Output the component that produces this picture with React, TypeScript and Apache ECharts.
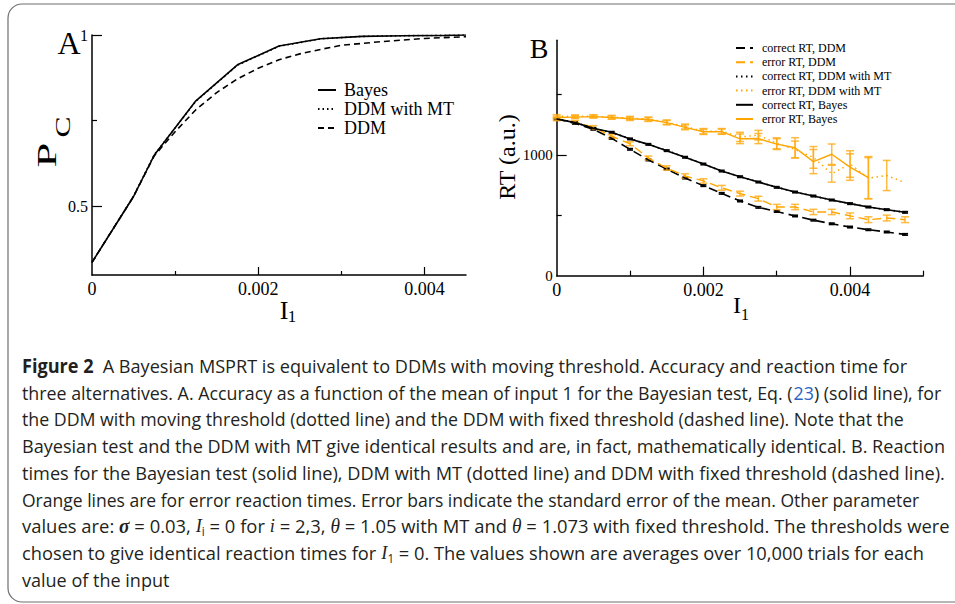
import React, { useEffect, useRef } from "react";
import * as echarts from "echarts";

// ---------- Panel A data ----------
const A_X_BAYES = [0, 0.0005, 0.00075, 0.00125, 0.00175, 0.00225, 0.00275, 0.00325, 0.00375, 0.00425, 0.0045];
const A_BAYES = [0.337, 0.529, 0.65, 0.808, 0.913, 0.968, 0.989, 0.996, 0.998, 0.999, 1.0];
const A_MT = [0.337, 0.53, 0.651, 0.807, 0.912, 0.967, 0.989, 0.996, 0.998, 0.999, 1.0];
const A_X_DDM = [0, 0.0005, 0.00075, 0.001, 0.00125, 0.0015, 0.00175, 0.002, 0.00225, 0.0025, 0.00275, 0.003, 0.0035, 0.004, 0.0045];
const A_DDM = [0.337, 0.529, 0.648, 0.718, 0.782, 0.832, 0.872, 0.903, 0.928, 0.945, 0.958, 0.97, 0.981, 0.99, 0.995];

const A_X_LABELS = [0, 0.002, 0.004];
const A_X_MAJOR = [0.002, 0.004];
const A_X_MINOR = [0.001, 0.003];
const A_Y_LABELS = [0.5, 1];
const A_Y_MINOR = [0.75];

// ---------- Panel B data ----------
const B_X = [0, 0.00025, 0.0005, 0.00075, 0.001, 0.00125, 0.0015, 0.00175, 0.002, 0.00225, 0.0025, 0.00275, 0.003, 0.00325, 0.0035, 0.00375, 0.004, 0.00425, 0.0045, 0.00475];
const B_CORRECT_DDM = [1298, 1262, 1213, 1138, 1047, 959, 884, 809, 746, 682, 619, 566, 532, 495, 460, 430, 403, 381, 362, 342];
const B_ERROR_DDM = [1296, 1274, 1229, 1155, 1093, 975, 892, 826, 785, 728, 680, 638, 569, 569, 528, 528, 496, 464, 478, 464];
const B_CORRECT_MT = [1300, 1270, 1222, 1186, 1135, 1086, 1038, 980, 927, 865, 822, 775, 734, 692, 661, 626, 598, 568, 548, 524];
const B_ERROR_MT = [1322, 1320, 1321, 1314, 1306, 1298, 1272, 1236, 1197, 1197, 1150, 1164, 1097, 1045, 980, 845, 925, 808, 830, 771];
const B_CORRECT_BAYES = [1298, 1268, 1221, 1188, 1133, 1088, 1036, 981, 925, 867, 820, 776, 732, 693, 660, 627, 597, 569, 547, 525];
const B_ERROR_BAYES = [1310, 1314, 1318, 1310, 1300, 1294, 1268, 1229, 1192, 1193, 1134, 1136, 1090, 1060, 945, 1006, 900, 812, null, null];

// standard errors
const SE_CORRECT_DDM = [6, 6, 6, 6, 6, 6, 6, 6, 6, 6, 6, 6, 6, 6, 6, 6, 6, 6, 6, 6];
const SE_ERROR_DDM = [12, 12, 14, 14, 16, 16, 18, 18, 18, 20, 20, 20, 22, 22, 22, 22, 24, 24, 24, 24];
const SE_CORRECT_BAYES = [6, 6, 6, 6, 6, 6, 6, 6, 6, 6, 6, 6, 6, 6, 6, 6, 6, 6, 6, 6];
const SE_ERROR_MT = [12, 12, 12, 14, 14, 16, 18, 20, 22, 22, 38, 40, 45, 70, 90, 70, 110, 170, 125, null];
const SE_ERROR_BAYES = [12, 12, 12, 14, 14, 16, 18, 20, 22, 22, 40, 42, 45, 83, 100, 85, 110, 175, null, null];

const B_X_LABELS = [0, 0.002, 0.004];
const B_X_MAJOR = [0.002, 0.004];
const B_X_MINOR = [0.001, 0.003, 0.005];
const B_Y_LABELS = [0, 1000];
const B_Y_MAJOR = [1000];
const B_Y_MINOR = [500, 1500];

// ---------- Caption ----------
type Seg = [string, string];
const CAPTION_LINES: Seg[][] = [
  [["b", "Figure 2"], ["n", "\u2002A Bayesian MSPRT is equivalent to DDMs with moving threshold. Accuracy and reaction time for"]],
  [["n", "three alternatives. A. Accuracy as a function of the mean of input 1 for the Bayesian test, Eq. ("], ["l", "23"], ["n", ") (solid line), for"]],
  [["n", "the DDM with moving threshold (dotted line) and the DDM with fixed threshold (dashed line). Note that the"]],
  [["n", "Bayesian test and the DDM with MT give identical results and are, in fact, mathematically identical. B. Reaction"]],
  [["n", "times for the Bayesian test (solid line), DDM with MT (dotted line) and DDM with fixed threshold (dashed line)."]],
  [["n", "Orange lines are for error reaction times. Error bars indicate the standard error of the mean. Other parameter"]],
  [["n", "values are: "], ["m", "σ"], ["n", " = 0.03, "], ["i", "I"], ["s", "i"], ["n", " = 0 for "], ["i", "i"], ["n", " = 2,3, "], ["t", "θ"], ["n", " = 1.05 with MT and "], ["t", "θ"], ["n", " = 1.073 with fixed threshold. The thresholds were"]],
  [["n", "chosen to give identical reaction times for "], ["i", "I"], ["s", "1"], ["n", " = 0. The values shown are averages over 10,000 trials for each"]],
  [["n", "value of the input"]],
];
const CAPTION_ENDS = [908, 941, 905, 946, 946, 920, 950, 925, 0];

const SERIF = "Liberation Serif";
const SANS = "Open Sans";
const ORANGE = "#FFA500";
const ORANGE_BAR = "rgba(255,170,20,0.8)";

function pairs(xs: number[], ys: (number | null)[]) {
  return xs.map((x, i) => [x, ys[i]]);
}
function bars(xs: number[], ys: (number | null)[], es: (number | null)[]) {
  const out: number[][] = [];
  xs.forEach((x, i) => {
    const y = ys[i];
    const e = es[i];
    if (y != null && e != null) out.push([x, y - e, y + e]);
  });
  return out;
}

export default function App() {
  const ref = useRef<HTMLDivElement>(null);
  useEffect(() => {
    const el = ref.current!;
    const chart = echarts.init(el, undefined, { renderer: "svg" });

    // caption measurement
    const canvas = document.createElement("canvas");
    const ctx = canvas.getContext("2d")!;
    const FS = 19;
    const fonts: Record<string, string> = {
      n: `${FS}px "${SANS}"`,
      b: `bold ${FS}px "${SANS}"`,
      l: `${FS}px "${SANS}"`,
      m: `italic bold 20px "${SERIF}"`,
      t: `italic 20px "${SERIF}"`,
      i: `italic ${FS}px "${SERIF}"`,
      s: `12px "${SANS}"`,
    };
    const col = "#231f20";
    const rich: any = {
      n: { fontFamily: SANS, fontSize: FS, fill: col, lineHeight: 22 },
      b: { fontFamily: SANS, fontSize: FS, fontWeight: "bold", fill: col, lineHeight: 22 },
      l: { fontFamily: SANS, fontSize: FS, fill: "#2f62c4", lineHeight: 22 },
      m: { fontFamily: SERIF, fontSize: 20, fontStyle: "italic", fontWeight: "bold", fill: col, lineHeight: 22 },
      t: { fontFamily: SERIF, fontSize: 20, fontStyle: "italic", fill: col, lineHeight: 22 },
      i: { fontFamily: SERIF, fontSize: FS, fontStyle: "italic", fill: col, lineHeight: 22 },
      s: { fontFamily: SANS, fontSize: 12, fill: col, lineHeight: 12, verticalAlign: "bottom" },
    };
    const nb = (t: string) => t.replace(/^ +| +$/g, (m) => "\u00a0".repeat(m.length));
    const widths = CAPTION_LINES.map((segs) => {
      let w = 0;
      segs.forEach(([k, t]) => {
        ctx.font = fonts[k];
        w += ctx.measureText(t).width;
      });
      return w;
    });
    const scales = widths.map((w, i) => (CAPTION_ENDS[i] > 0 ? (CAPTION_ENDS[i] - 22) / w : 0));
    const fullScales = scales.filter((s) => s > 0);
    const meanScale = fullScales.reduce((a, b) => a + b, 0) / fullScales.length;
    const captionEls = CAPTION_LINES.map((segs, i) => {
      const sx = scales[i] > 0 ? scales[i] : meanScale;
      const text = segs.map(([k, t]) => `{${k}|${nb(t)}}`).join("");
      return {
        type: "text",
        x: 22,
        y: 372 + i * 26.8 - 7,
        scaleX: sx,
        silent: true,
        style: { text, rich, fontFamily: SANS, fontSize: FS, fill: col, align: "left", verticalAlign: "middle" },
      };
    });

    const axisLine = { show: true, lineStyle: { color: "#000", width: 1.5 } };
    const labelStyle = (size: number) => ({ fontFamily: SERIF, fontSize: size, color: "#000" });
    const fmtX = (v: number) => (v === 0 ? "0" : v.toFixed(3));
    const tickLine = { color: "#000", width: 1.2 };

    const lineSeries = (name: string, xi: number, yi: number, data: any[], color: string, type: any, width = 1.6, z = 3) => ({
      name,
      type: "line",
      xAxisIndex: xi,
      yAxisIndex: yi,
      data,
      symbol: "none",
      showSymbol: false,
      connectNulls: false,
      lineStyle: { color, width, type },
      itemStyle: { color },
      z,
    });

    const errSeries = (data: number[][], color: string, width: number, half: number) => ({
      type: "custom",
      xAxisIndex: 2,
      yAxisIndex: 2,
      silent: true,
      z: 2,
      encode: { x: 0, y: [1, 2] },
      data,
      renderItem: (params: any, api: any) => {
        const x = api.value(0);
        const top = api.coord([x, api.value(2)]);
        const bot = api.coord([x, api.value(1)]);
        const style = { stroke: color, lineWidth: width };
        return {
          type: "group",
          children: [
            { type: "line", shape: { x1: top[0], y1: top[1], x2: bot[0], y2: bot[1] }, style },
            { type: "line", shape: { x1: top[0] - half, y1: top[1], x2: top[0] + half, y2: top[1] }, style },
            { type: "line", shape: { x1: bot[0] - half, y1: bot[1], x2: bot[0] + half, y2: bot[1] }, style },
          ],
        };
      },
    });

    const option: any = {
      animation: false,
      backgroundColor: "#fff",
      grid: [
        { left: 92, top: 35, width: 374, height: 240 },
        { left: 556.7, top: 40.3, width: 366.7, height: 235.4 },
      ],
      xAxis: [
        {
          gridIndex: 0, type: "value", position: "bottom", min: 0, max: 0.0045,
          axisLine, splitLine: { show: false },
          axisTick: { show: true, inside: true, length: 8, customValues: A_X_MAJOR, lineStyle: tickLine },
          axisLabel: { show: true, customValues: A_X_LABELS, formatter: fmtX, margin: 5, ...labelStyle(18) },
        },
        {
          gridIndex: 0, type: "value", position: "bottom", min: 0, max: 0.0045,
          axisLine: { show: false }, splitLine: { show: false },
          axisTick: { show: true, inside: true, length: 4, customValues: A_X_MINOR, lineStyle: tickLine },
          axisLabel: { show: false },
        },
        {
          gridIndex: 1, type: "value", position: "bottom", min: 0, max: 0.005,
          axisLine, splitLine: { show: false },
          axisTick: { show: true, inside: true, length: 9, customValues: B_X_MAJOR, lineStyle: tickLine },
          axisLabel: { show: true, customValues: B_X_LABELS, formatter: fmtX, margin: 5, ...labelStyle(18) },
        },
        {
          gridIndex: 1, type: "value", position: "bottom", min: 0, max: 0.005,
          axisLine: { show: false }, splitLine: { show: false },
          axisTick: { show: true, inside: true, length: 5, customValues: B_X_MINOR, lineStyle: tickLine },
          axisLabel: { show: false },
        },
      ],
      yAxis: [
        {
          gridIndex: 0, type: "value", position: "left", min: 0.3, max: 1,
          axisLine, splitLine: { show: false },
          axisTick: { show: true, inside: true, length: 10, customValues: A_Y_LABELS, lineStyle: tickLine },
          axisLabel: { show: true, customValues: A_Y_LABELS, formatter: (v: number) => String(v), margin: 4, ...labelStyle(16) },
        },
        {
          gridIndex: 0, type: "value", position: "left", min: 0.3, max: 1,
          axisLine: { show: false }, splitLine: { show: false },
          axisTick: { show: true, inside: true, length: 5, customValues: A_Y_MINOR, lineStyle: tickLine },
          axisLabel: { show: false },
        },
        {
          gridIndex: 1, type: "value", position: "left", min: 0, max: 1950,
          axisLine, splitLine: { show: false },
          axisTick: { show: true, inside: true, length: 10, customValues: B_Y_MAJOR, lineStyle: tickLine },
          axisLabel: { show: true, customValues: B_Y_LABELS, formatter: (v: number) => String(v), margin: 4, ...labelStyle(15) },
        },
        {
          gridIndex: 1, type: "value", position: "left", min: 0, max: 1950,
          axisLine: { show: false }, splitLine: { show: false },
          axisTick: { show: true, inside: true, length: 5, customValues: B_Y_MINOR, lineStyle: tickLine },
          axisLabel: { show: false },
        },
      ],
      legend: [
        {
          data: ["Bayes", "DDM with MT", "DDM"],
          orient: "vertical", left: 317, top: 81, padding: 0,
          itemWidth: 18, itemHeight: 14, itemGap: 1,
          itemStyle: { opacity: 0 },
          textStyle: { fontFamily: SERIF, fontSize: 18, color: "#000", padding: [0, 0, 0, 3] },
          selectedMode: false,
        },
        {
          data: ["correct RT, DDM", "error RT, DDM", "correct RT, DDM with MT", "error RT, DDM with MT", "correct RT, Bayes", "error RT, Bayes"],
          orient: "vertical", left: 735, top: 42, padding: 0,
          itemWidth: 17, itemHeight: 10, itemGap: 2.2,
          itemStyle: { opacity: 0 },
          textStyle: { fontFamily: SERIF, fontSize: 12, color: "#000", padding: [0, 0, 0, 4] },
          selectedMode: false,
        },
      ],
      series: [
        lineSeries("DDM", 0, 0, pairs(A_X_DDM, A_DDM), "#000", [6, 4]),
        lineSeries("DDM with MT", 0, 0, pairs(A_X_BAYES, A_MT), "#000", [1.5, 3]),
        lineSeries("Bayes", 0, 0, pairs(A_X_BAYES, A_BAYES), "#000", "solid"),

        errSeries(bars(B_X, B_CORRECT_DDM, SE_CORRECT_DDM), "#000", 1.6, 3),
        errSeries(bars(B_X, B_CORRECT_BAYES, SE_CORRECT_BAYES), "#000", 1.6, 3),
        errSeries(bars(B_X, B_ERROR_DDM, SE_ERROR_DDM), ORANGE_BAR, 1.5, 4),
        errSeries(bars(B_X, B_ERROR_MT, SE_ERROR_MT), ORANGE_BAR, 1.5, 4),
        errSeries(bars(B_X, B_ERROR_BAYES, SE_ERROR_BAYES), ORANGE_BAR, 1.5, 4),

        lineSeries("correct RT, DDM", 2, 2, pairs(B_X, B_CORRECT_DDM), "#000", [9, 5], 1.6),
        lineSeries("error RT, DDM", 2, 2, pairs(B_X, B_ERROR_DDM), ORANGE, [9, 5], 1.4),
        lineSeries("correct RT, DDM with MT", 2, 2, pairs(B_X, B_CORRECT_MT), "#000", [1.5, 3.5], 1.6),
        lineSeries("error RT, DDM with MT", 2, 2, pairs(B_X, B_ERROR_MT), ORANGE, [1.5, 3.5], 1.4),
        lineSeries("correct RT, Bayes", 2, 2, pairs(B_X, B_CORRECT_BAYES), "#000", "solid", 1.6),
        lineSeries("error RT, Bayes", 2, 2, pairs(B_X, B_ERROR_BAYES), ORANGE, "solid", 1.4),
      ],
      graphic: [
        {
          type: "rect", silent: true, z: -1,
          shape: { x: 8, y: 4, width: 965, height: 598, r: 14 },
          style: { fill: "none", stroke: "#6e6e6e", lineWidth: 1.2 },
        },
        ...captionEls,
        { type: "text", x: 69, y: 43, silent: true, style: { text: "A", fontFamily: SERIF, fontSize: 32, fill: "#000", align: "center", verticalAlign: "middle" } },
        { type: "text", x: 539, y: 48, silent: true, style: { text: "B", fontFamily: SERIF, fontSize: 28, fill: "#000", align: "center", verticalAlign: "middle" } },
        { type: "text", x: 47, y: 155, rotation: Math.PI / 2, scaleX: 1.6, silent: true, style: { text: "P", fontFamily: SERIF, fontSize: 28, fill: "#000", align: "center", verticalAlign: "middle" } },
        { type: "text", x: 63, y: 127, rotation: Math.PI / 2, scaleX: 1.5, silent: true, style: { text: "C", fontFamily: SERIF, fontSize: 21, fill: "#000", align: "center", verticalAlign: "middle" } },
        { type: "text", x: 284, y: 310, silent: true, style: { text: "I", fontFamily: SERIF, fontSize: 26, fill: "#000", align: "center", verticalAlign: "middle" } },
        { type: "text", x: 292, y: 316, silent: true, style: { text: "1", fontFamily: SERIF, fontSize: 17, fill: "#000", align: "center", verticalAlign: "middle" } },
        { type: "text", x: 737, y: 305, silent: true, style: { text: "I", fontFamily: SERIF, fontSize: 24, fill: "#000", align: "center", verticalAlign: "middle" } },
        { type: "text", x: 745, y: 314, silent: true, style: { text: "1", fontFamily: SERIF, fontSize: 16, fill: "#000", align: "center", verticalAlign: "middle" } },
        { type: "text", x: 507, y: 157, rotation: Math.PI / 2, silent: true, style: { text: "RT (a.u.)", fontFamily: SERIF, fontSize: 24, fill: "#000", align: "center", verticalAlign: "middle" } },
      ],
    };
    chart.setOption(option);
    return () => chart.dispose();
  }, []);
  return (
    <div
      ref={ref}
      style={{ position: "fixed", left: 0, top: 0, width: 955, height: 604, background: "#fff" }}
    />
  );
}
